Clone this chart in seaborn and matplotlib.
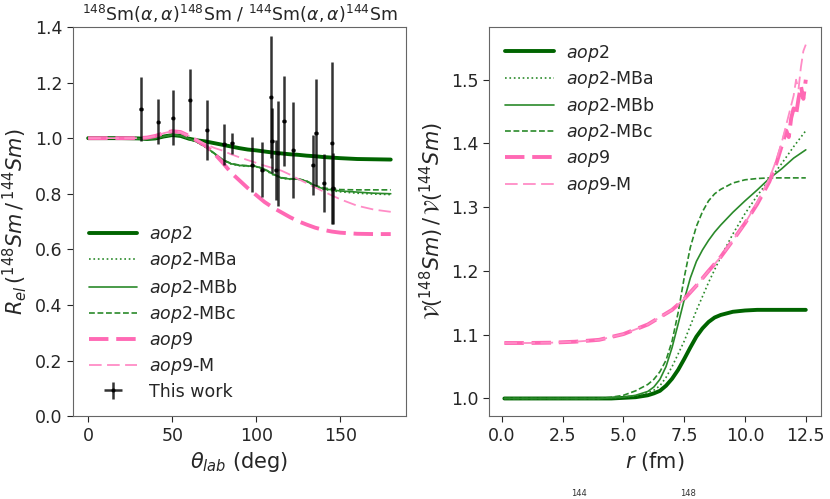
import numpy as np
import matplotlib
matplotlib.use("Agg")
import matplotlib.pyplot as plt
import seaborn as sns

# ---------------- data: left panel (ratio of elastic cross sections) ----------------
theta = [0, 10, 20, 30, 35, 40, 45, 50, 55, 60, 65, 70, 75, 80, 85, 90, 95, 100,
         105, 110, 115, 120, 125, 130, 135, 140, 145, 150, 160, 170, 180]
rel_aop2 = [1.000, 1.000, 1.000, 0.999, 0.997, 0.999, 1.006, 1.011, 1.008, 0.998, 0.992,
            0.988, 0.982, 0.976, 0.970, 0.964, 0.959, 0.956, 0.952, 0.948, 0.945, 0.942,
            0.940, 0.937, 0.935, 0.932, 0.930, 0.928, 0.925, 0.924, 0.923]
rel_mba = [1.000, 1.000, 1.000, 0.998, 0.996, 0.999, 1.006, 1.012, 1.009, 0.998, 0.985,
           0.967, 0.944, 0.921, 0.907, 0.901, 0.899, 0.897, 0.886, 0.868, 0.856, 0.852,
           0.852, 0.844, 0.827, 0.816, 0.811, 0.807, 0.802, 0.799, 0.797]
rel_mbb = [1.000, 1.000, 1.000, 0.998, 0.996, 0.999, 1.006, 1.012, 1.009, 0.998, 0.985,
           0.968, 0.945, 0.922, 0.908, 0.902, 0.900, 0.898, 0.888, 0.870, 0.857, 0.853,
           0.853, 0.845, 0.828, 0.818, 0.814, 0.810, 0.806, 0.802, 0.800]
rel_mbc = [1.000, 1.000, 1.000, 0.998, 0.996, 0.999, 1.006, 1.012, 1.009, 0.998, 0.985,
           0.968, 0.946, 0.923, 0.909, 0.903, 0.901, 0.899, 0.889, 0.871, 0.858, 0.854,
           0.854, 0.846, 0.830, 0.821, 0.817, 0.815, 0.814, 0.814, 0.814]
rel_aop9 = [1.000, 1.000, 1.000, 1.000, 1.002, 1.008, 1.018, 1.025, 1.022, 1.008, 0.990,
            0.972, 0.945, 0.912, 0.876, 0.848, 0.820, 0.795, 0.770, 0.750, 0.733, 0.716,
            0.701, 0.689, 0.678, 0.670, 0.664, 0.660, 0.656, 0.655, 0.655]
rel_aop9m = [1.000, 1.000, 1.000, 1.000, 1.002, 1.008, 1.018, 1.025, 1.022, 1.008, 0.992,
             0.978, 0.965, 0.955, 0.942, 0.931, 0.921, 0.911, 0.901, 0.892, 0.883, 0.869,
             0.853, 0.838, 0.823, 0.808, 0.794, 0.780, 0.757, 0.743, 0.735]

# measured points (this work)
exp_theta = [31.5, 41.7, 50.3, 60.4, 70.4, 80.8, 85.6, 97.7, 103.5, 108.5, 109.3, 111.5,
             112.7, 116.5, 122.0, 133.6, 135.6, 140.0, 144.8, 145.6]
exp_rel = [1.104, 1.059, 1.074, 1.137, 1.031, 0.978, 0.981, 0.905, 0.887, 1.149, 0.990,
           0.885, 0.945, 1.062, 0.957, 0.905, 1.019, 0.839, 0.983, 0.819]
exp_err = [0.115, 0.081, 0.098, 0.110, 0.108, 0.074, 0.037, 0.100, 0.098, 0.220, 0.117,
           0.107, 0.190, 0.163, 0.172, 0.108, 0.192, 0.105, 0.290, 0.126]

# ---------------- data: right panel (potential ratio) ----------------
r_fm = [0.1, 1, 2, 3, 4, 4.5, 5, 5.5, 6, 6.25, 6.5, 6.75, 7, 7.25, 7.5, 7.75, 8, 8.25,
        8.5, 8.75, 9, 9.5, 10, 10.5, 11, 11.5, 12, 12.5]
v_aop2 = [1.000, 1.000, 1.000, 1.000, 1.000, 1.000, 1.001, 1.002, 1.005, 1.008, 1.012,
          1.020, 1.031, 1.045, 1.062, 1.080, 1.097, 1.110, 1.120, 1.127, 1.131, 1.136,
          1.138, 1.139, 1.139, 1.139, 1.139, 1.139]
v_mba = [1.000, 1.000, 1.000, 1.000, 1.000, 1.001, 1.002, 1.004, 1.009, 1.013, 1.020,
         1.033, 1.050, 1.070, 1.090, 1.114, 1.138, 1.160, 1.182, 1.202, 1.222, 1.258,
         1.290, 1.318, 1.343, 1.368, 1.395, 1.420]
v_mbb = [1.000, 1.000, 1.000, 1.000, 1.000, 1.001, 1.002, 1.005, 1.011, 1.018, 1.030,
         1.050, 1.080, 1.117, 1.155, 1.189, 1.215, 1.233, 1.248, 1.261, 1.272, 1.292,
         1.310, 1.327, 1.345, 1.360, 1.377, 1.390]
v_mbc = [1.000, 1.000, 1.000, 1.000, 1.000, 1.002, 1.005, 1.012, 1.022, 1.030, 1.042,
         1.060, 1.090, 1.135, 1.190, 1.237, 1.270, 1.293, 1.310, 1.321, 1.328, 1.338,
         1.343, 1.345, 1.346, 1.346, 1.346, 1.346]

r_pink = [0.1, 1, 2, 3, 4, 5, 6, 7, 7.5, 8, 8.5, 9, 9.5, 10, 10.5, 11, 11.3, 11.5,
          11.7, 11.8, 11.9, 12.0, 12.1, 12.2, 12.3, 12.4, 12.5]
v_aop9 = [1.087, 1.087, 1.0875, 1.089, 1.092, 1.101, 1.116, 1.139, 1.156, 1.177, 1.200,
          1.222, 1.248, 1.275, 1.305, 1.340, 1.370, 1.395, 1.420, 1.410, 1.440, 1.455,
          1.445, 1.470, 1.490, 1.470, 1.500]
v_aop9m = [1.087, 1.087, 1.0875, 1.089, 1.092, 1.101, 1.116, 1.139, 1.156, 1.177, 1.200,
           1.222, 1.248, 1.275, 1.307, 1.345, 1.375, 1.400, 1.430, 1.445, 1.460, 1.475,
           1.500, 1.485, 1.520, 1.545, 1.555]

labels = ["$aop2$", "$aop2$-MBa", "$aop2$-MBb", "$aop2$-MBc", "$aop9$", "$aop9$-M"]

# ---------------- style ----------------
sns.set_style("ticks")
plt.rcParams["font.family"] = ["DejaVu Sans"]
plt.rcParams["axes.edgecolor"] = "0.4"
plt.rcParams["xtick.color"] = "0.15"
plt.rcParams["ytick.color"] = "0.15"

DARK = "#006400"
MID = "#2a8a2a"
PINK = "#ff69b4"
PINK_L = "#ff8cc6"

line_styles = [
    dict(color=DARK, lw=2.8, linestyle="-"),
    dict(color=MID, lw=1.2, linestyle=":"),
    dict(color=MID, lw=1.2, linestyle="-"),
    dict(color=MID, lw=1.2, linestyle=(0, (3.5, 1.6))),
    dict(color=PINK, lw=2.8, linestyle=(0, (5, 2))),
    dict(color=PINK_L, lw=1.3, linestyle=(0, (7, 3))),
]

fig = plt.figure(figsize=(8.3, 4.99), dpi=100)
ax1 = fig.add_axes([0.088, 0.166, 0.401, 0.780])
ax2 = fig.add_axes([0.5895, 0.166, 0.3995, 0.780])

# left panel
left_series = [rel_aop2, rel_mba, rel_mbb, rel_mbc, rel_aop9, rel_aop9m]
for vals, lab, st in zip(left_series, labels, line_styles):
    sns.lineplot(x=theta, y=vals, ax=ax1, label=lab, errorbar=None, **st)

ax1.errorbar(exp_theta, exp_rel, yerr=exp_err, xerr=1.0, fmt=".", color="k",
             ms=4, elinewidth=1.8, alpha=0.8, label="This work", zorder=5)

ax1.set_ylim(0, 1.4)
ax1.set_yticks(np.arange(0, 1.41, 0.2))
ax1.set_xticks([0, 50, 100, 150])
ax1.set_xlabel(r"$\theta_{lab}$ (deg)", fontsize=15)
ax1.set_ylabel(r"$R_{el}\,(^{148}Sm\,/\,^{144}Sm)$", fontsize=15)
ax1.set_title(r"$^{148}$Sm$(\alpha,\alpha)^{148}$Sm / $^{144}$Sm$(\alpha,\alpha)^{144}$Sm",
              fontsize=12.5, pad=4)
ax1.legend(loc="lower left", frameon=False, fontsize=12.5, handlelength=2.8,
           handletextpad=0.7, labelspacing=0.3)

# right panel
right_series = [(r_fm, v_aop2), (r_fm, v_mba), (r_fm, v_mbb), (r_fm, v_mbc),
                (r_pink, v_aop9), (r_pink, v_aop9m)]
for (xs, vals), lab, st in zip(right_series, labels, line_styles):
    sns.lineplot(x=xs, y=vals, ax=ax2, label=lab, errorbar=None, **st)

ax2.set_xticks([0.0, 2.5, 5.0, 7.5, 10.0, 12.5])
ax2.set_yticks([1.0, 1.1, 1.2, 1.3, 1.4, 1.5])
ax2.set_xlabel(r"$r$ (fm)", fontsize=15)
ax2.set_ylabel(r"$\mathcal{V}(^{148}Sm)\,/\,\mathcal{V}(^{144}Sm)$", fontsize=15)
ax2.legend(loc="upper left", frameon=False, fontsize=12.5, handlelength=2.8,
           handletextpad=0.7, labelspacing=0.3)

for ax in (ax1, ax2):
    ax.tick_params(labelsize=12.5, length=4)

# caption fragment at the bottom edge
fig.text(0.697, 0.002, "144", fontsize=6, ha="center", va="bottom", color="0.2")
fig.text(0.829, 0.002, "148", fontsize=6, ha="center", va="bottom", color="0.2")

fig.savefig("out.png", dpi=100)
